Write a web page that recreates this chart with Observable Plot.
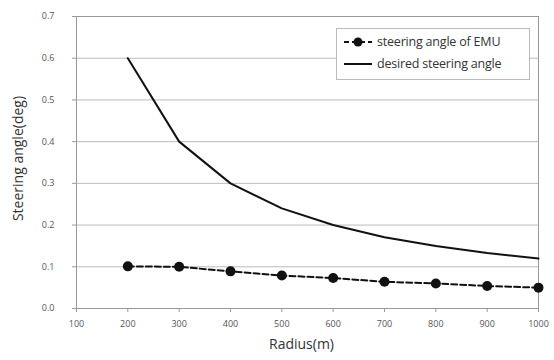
<!DOCTYPE html>
<html><head><meta charset="utf-8">
<script src="https://cdn.jsdelivr.net/npm/d3@7"></script>
<script src="https://cdn.jsdelivr.net/npm/@observablehq/plot@0.6"></script>
<style>
body{margin:0;background:#fff;font-family:"Open Sans",Arial,sans-serif;}
#wrap{position:relative;width:554px;height:360px;}
#legend{position:absolute;left:336px;top:28px;width:194px;height:52px;border:1px solid #bbb;background:#fff;font-size:12.5px;color:#333;box-sizing:border-box;letter-spacing:-0.2px;}
#legend .row{position:absolute;left:5px;display:flex;align-items:center;}
#legend svg{margin-right:3px;}
</style></head>
<body><div id="wrap"><div id="chart"></div>
<div id="legend">
 <div class="row" style="top:4px"><svg width="32" height="14"><line x1="2" y1="7" x2="30" y2="7" stroke="#111" stroke-width="2" stroke-dasharray="5,3"/><circle cx="16" cy="7" r="4.5" fill="#111"/></svg><span>steering angle of EMU</span></div>
 <div class="row" style="top:26px"><svg width="32" height="14"><line x1="2" y1="7" x2="30" y2="7" stroke="#111" stroke-width="2"/></svg><span>desired steering angle</span></div>
</div></div>
<script>
const radius = [200, 300, 400, 500, 600, 700, 800, 900, 1000];
const emuAngle = [0.101, 0.100, 0.089, 0.079, 0.073, 0.064, 0.060, 0.054, 0.050];
const desiredAngle = [0.600, 0.400, 0.300, 0.240, 0.200, 0.171, 0.150, 0.133, 0.120];
const xTicks = [100, 200, 300, 400, 500, 600, 700, 800, 900, 1000];
const yTicks = [0.0, 0.1, 0.2, 0.3, 0.4, 0.5, 0.6, 0.7];

const emu = radius.map((r, i) => ({r, v: emuAngle[i]}));
const des = radius.map((r, i) => ({r, v: desiredAngle[i]}));

const chart = Plot.plot({
  width: 554, height: 360,
  marginLeft: 76, marginRight: 16, marginTop: 16, marginBottom: 52,
  style: {fontFamily: "'Open Sans', Arial, sans-serif", fontSize: "9px", color: "#555", background: "#fff"},
  x: {domain: [100, 1000], ticks: xTicks, tickFormat: d => String(d), label: null},
  y: {domain: [0, 0.7], ticks: yTicks, tickFormat: d => d.toFixed(1), label: null},
  marks: [
    Plot.gridY(yTicks, {stroke: "#bbb", strokeOpacity: 1}),
    Plot.frame({stroke: "#999"}),
    Plot.axisY({ticks: yTicks, tickFormat: d => d.toFixed(1), tickSize: 4, tickPadding: 18, stroke: "#999", label: null}),
    Plot.axisX({ticks: xTicks, tickFormat: d => String(d), tickSize: 4, tickPadding: 8, stroke: "#999", label: null}),
    Plot.line(des, {x: "r", y: "v", stroke: "#111", strokeWidth: 2}),
    Plot.line(emu, {x: "r", y: "v", stroke: "#111", strokeWidth: 2, strokeDasharray: "6,3"}),
    Plot.dot(emu, {x: "r", y: "v", r: 5, fill: "#111"}),
    Plot.text(["Radius(m)"], {frameAnchor: "bottom", dx: -6, dy: 40, fontSize: 14, fill: "#333"}),
    Plot.text(["Steering angle(deg)"], {frameAnchor: "left", textAnchor: "middle", dx: -58, dy: -4, rotate: -90, fontSize: 14, fill: "#333"})
  ]
});
document.getElementById("chart").appendChild(chart);
</script>
</body></html>
